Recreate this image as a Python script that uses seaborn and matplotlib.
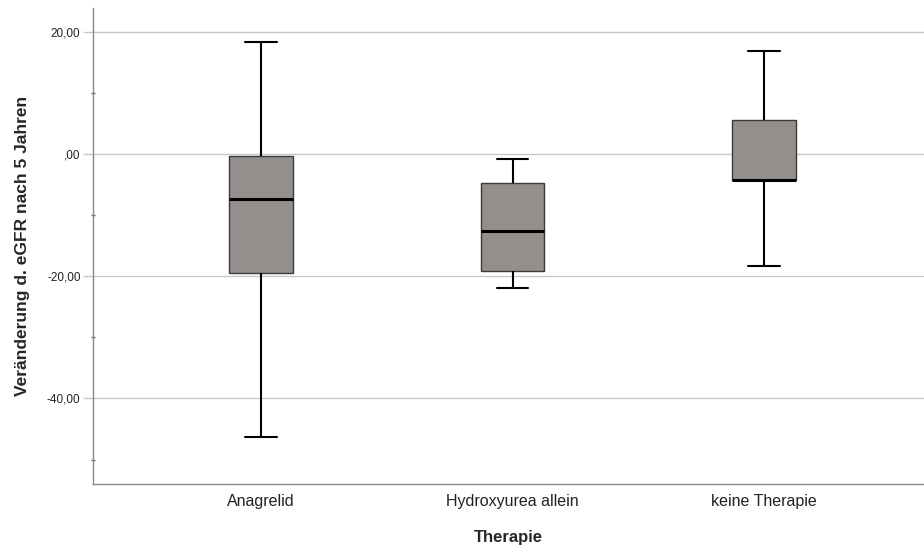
import matplotlib
matplotlib.use("Agg")
import matplotlib.pyplot as plt
from matplotlib.ticker import MultipleLocator, FuncFormatter
import seaborn as sns
import pandas as pd

categories = ["Anagrelid", "Hydroxyurea allein", "keine Therapie"]
# five-number summaries: min, Q1, median, Q3, max
anagrelid = [-46.3, -19.4, -7.3, -0.3, 18.4]
hydroxyurea = [-21.9, -19.2, -12.6, -4.8, -0.8]
keine = [-18.3, -4.2, -4.2, 5.5, 16.8]

rows = []
for cat, vals in zip(categories, [anagrelid, hydroxyurea, keine]):
    for v in vals:
        rows.append({"Therapie": cat, "value": v})
df = pd.DataFrame(rows)

sns.set_style("white")
plt.rcParams["font.family"] = ["Liberation Sans", "DejaVu Sans"]

fig = plt.figure(figsize=(9.24, 5.51), dpi=100)
ax = fig.add_axes([93 / 924, 67 / 551, 831 / 924, 476 / 551])

sns.boxplot(
    data=df, x="Therapie", y="value", order=categories,
    whis=(0, 100), width=0.254, color="#948f8c", saturation=1,
    linecolor="#3a3a3a", linewidth=1.0, ax=ax,
    medianprops=dict(color="black", linewidth=2.2),
    whiskerprops=dict(color="black", linewidth=1.5),
    capprops=dict(color="black", linewidth=1.5),
    showfliers=False,
)

ax.set_xlim(-0.668, 2.636)
ax.set_ylim(-54.0, 23.9)
ax.yaxis.set_major_locator(MultipleLocator(20))
ax.yaxis.set_minor_locator(MultipleLocator(10))
ax.yaxis.set_major_formatter(FuncFormatter(
    lambda v, p: (",00" if abs(v) < 1e-9 else f"{v:.2f}".replace(".", ","))))
ax.grid(axis="y", which="major", color="#c8c8c8", linewidth=1.0)
ax.set_axisbelow(True)

for s in ["top", "right"]:
    ax.spines[s].set_visible(False)
for s in ["left", "bottom"]:
    ax.spines[s].set_color("#888888")
    ax.spines[s].set_linewidth(1.0)

ax.tick_params(axis="y", which="major", left=True, length=7, width=1,
               color="#c8c8c8", labelsize=8.5, labelcolor="#222222", pad=2)
ax.tick_params(axis="y", which="minor", left=True, length=3, width=1,
               color="#666666", direction="inout")
ax.tick_params(axis="x", bottom=False, labelsize=11.5, labelcolor="#222222", pad=4)

ax.set_xlabel("Therapie", fontsize=12, fontweight="bold", labelpad=15)
ax.set_ylabel("Veränderung d. eGFR nach 5 Jahren", fontsize=12.5,
              fontweight="bold", labelpad=12)

fig.savefig("out.png", dpi=100)
